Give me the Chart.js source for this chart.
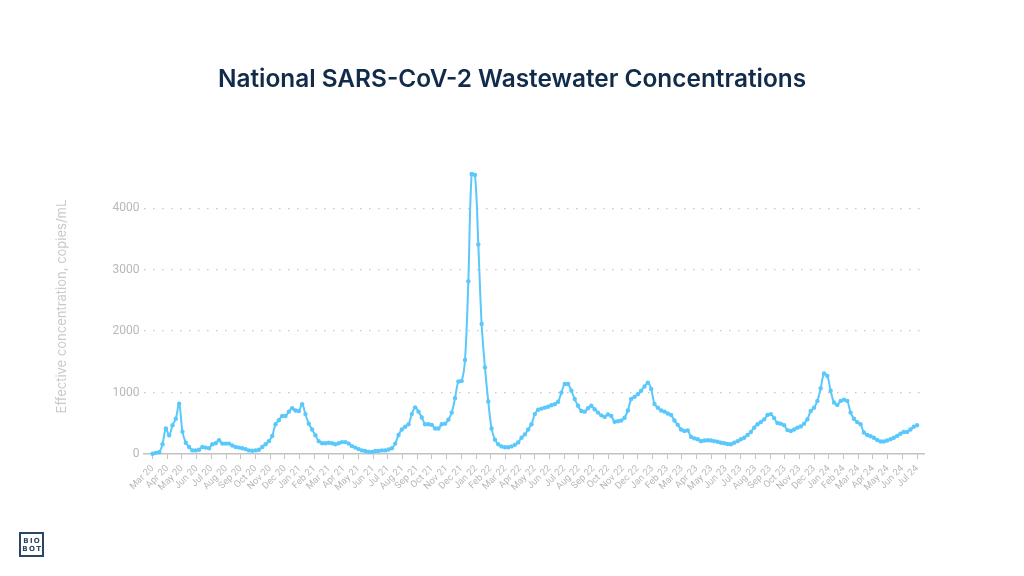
<!DOCTYPE html>
<html lang="en">
<head>
  <meta charset="UTF-8" />
  <title>National SARS-CoV-2 Wastewater Concentrations</title>
  <script src="https://cdn.jsdelivr.net/npm/chart.js"></script>
  <style>
    * { box-sizing: border-box; margin: 0; padding: 0; }
    html, body { width: 1024px; height: 576px; background: #fff; overflow: hidden; }
    #wrap { position: absolute; left: 0; top: 0; width: 1024px; height: 576px; }
    h1 {
      position: absolute; left: 0; top: 66px; width: 1024px; text-align: center;
      font-family: 'Inter', sans-serif; font-weight: 600; font-size: 24.4px; line-height: 24px;
      color: #112b4b;
    }
    .logo {
      position: absolute; left: 19px; top: 532px; width: 25px; height: 25px;
      border: 2px solid #2b4566; color: #2b4566;
      font-family: 'DejaVu Sans', sans-serif; font-weight: bold; font-size: 7px;
      letter-spacing: 1.3px; line-height: 8px; text-align: center; padding-top: 3px; padding-left: 1.3px;
    }
  </style>
</head>
<body>
  <div id="wrap"><canvas id="chart" width="1024" height="576"></canvas></div>
  <h1>National SARS-CoV-2 Wastewater Concentrations</h1>
  <div class="logo">BIO<br>BOT</div>

  <script>
    // month tick labels, Mar 2020 .. Jul 2024
    const monthLabels = [
      'Mar 20', 'Apr 20', 'May 20', 'Jun 20', 'Jul 20', 'Aug 20', 'Sep 20', 'Oct 20', 'Nov 20', 'Dec 20',
      'Jan 21', 'Feb 21', 'Mar 21', 'Apr 21', 'May 21', 'Jun 21', 'Jul 21', 'Aug 21', 'Sep 21', 'Oct 21', 'Nov 21', 'Dec 21',
      'Jan 22', 'Feb 22', 'Mar 22', 'Apr 22', 'May 22', 'Jun 22', 'Jul 22', 'Aug 22', 'Sep 22', 'Oct 22', 'Nov 22', 'Dec 22',
      'Jan 23', 'Feb 23', 'Mar 23', 'Apr 23', 'May 23', 'Jun 23', 'Jul 23', 'Aug 23', 'Sep 23', 'Oct 23', 'Nov 23', 'Dec 23',
      'Jan 24', 'Feb 24', 'Mar 24', 'Apr 24', 'May 24', 'Jun 24', 'Jul 24'
    ];

    const yTicks = [0, 1000, 2000, 3000, 4000];

    // weekly effective concentration (copies/mL)
    const conc2020 = [
      5, 20, 30, 160, 415, 305, 470, 575, 820, 365, 185, 115, 60, 60, 70, 115, 105, 95, 160, 175,
      225, 170, 170, 170, 140, 115, 105, 95, 80, 60, 55, 60, 70, 115, 160, 210, 295,
      485, 550, 620, 620, 690, 745, 710, 700
    ];
    const conc2021 = [
      810, 650, 495, 400, 305, 210, 175, 175, 185, 175, 160, 175, 195, 195, 170, 130, 105, 80,
      60, 50, 35, 35, 50, 50, 60, 60, 75, 95,
      170, 310, 400, 445, 485, 650, 760, 690, 595, 485, 485, 475, 415, 415, 485, 495, 560, 675,
      910, 1180, 1190, 1530, 2810
    ];
    const conc2022 = [
      4555, 4540, 3410, 2115, 1410, 855, 415, 235, 160, 125, 110, 110, 125,
      150, 190, 265, 320, 400, 485, 650, 720, 740, 755, 770, 795, 810, 850, 1000, 1140, 1140,
      1030, 895, 785, 700, 690, 745, 785, 730, 675, 630, 605, 645, 620, 525, 535, 545, 590, 710,
      895, 930, 975, 1030
    ];
    const conc2023 = [
      1100, 1160, 1060, 815, 755, 710, 690, 660, 635, 545, 475, 400, 375, 385, 280, 255, 240,
      210, 220, 225, 220, 210, 200, 185, 175, 165, 160, 185, 210, 240, 265, 310, 360, 430, 485,
      520, 565, 635, 650, 585, 505, 495, 470, 390, 375, 400, 430, 450, 495, 565, 700, 755, 865, 1070
    ];
    const conc2024 = [
      1310, 1270, 1030, 840, 800, 865, 885, 865, 675, 575, 520, 485, 350, 310, 290, 265, 230,
      205, 205, 220, 240, 265, 295, 330, 360, 360, 400, 445, 470
    ];

    const values = [].concat(conc2020, conc2021, conc2022, conc2023, conc2024);
    const lastMonth = monthLabels.length - 1;
    // weekly samples spread evenly from the first to the last month tick
    const points = values.map((v, i) => ({ x: i * lastMonth / (values.length - 1), y: v }));

    const lineColor = '#5ac8fa';
    const axisGrey = '#c2c2c2';
    const textGrey = '#b8b8b8';

    new Chart(document.getElementById('chart').getContext('2d'), {
      type: 'line',
      data: {
        datasets: [{
          data: points,
          borderColor: lineColor,
          backgroundColor: lineColor,
          borderWidth: 2,
          pointRadius: 2.2,
          pointBorderWidth: 0,
          pointHoverRadius: 2.2,
          tension: 0.35,
          clip: false
        }]
      },
      options: {
        responsive: false,
        animation: false,
        events: [],
        layout: { padding: { left: 54, right: 100, top: 159, bottom: 79 } },
        plugins: {
          legend: { display: false },
          tooltip: { enabled: false }
        },
        scales: {
          x: {
            type: 'linear',
            min: -0.61,
            max: 52.47,
            afterBuildTicks: s => { s.ticks = monthLabels.map((_, i) => ({ value: i })); },
            ticks: {
              autoSkip: false,
              minRotation: 45,
              maxRotation: 45,
              padding: 4,
              color: textGrey,
              font: { family: 'Roboto', size: 9.5 },
              callback: v => monthLabels[v]
            },
            grid: { drawOnChartArea: false, drawTicks: true, tickLength: 5, color: axisGrey },
            border: { display: true, color: axisGrey, width: 1.5 }
          },
          y: {
            min: 0,
            max: 4800,
            afterBuildTicks: s => { s.ticks = yTicks.map(v => ({ value: v })); },
            ticks: {
              color: textGrey,
              padding: 4,
              font: { family: 'Roboto', size: 12 },
              callback: v => String(v)
            },
            grid: {
              drawTicks: false,
              color: c => (c.tick && c.tick.value === 0) ? 'rgba(0,0,0,0)' : '#c8c8c8',
              lineWidth: 1.3
            },
            border: { display: false, dash: [1.5, 7.5] },
            title: {
              display: true,
              text: 'Effective concentration, copies/mL',
              color: '#c9c9c9',
              font: { family: 'Inter', size: 13 },
              padding: { top: 0, bottom: 39 }
            }
          }
        }
      }
    });
  </script>
</body>
</html>
